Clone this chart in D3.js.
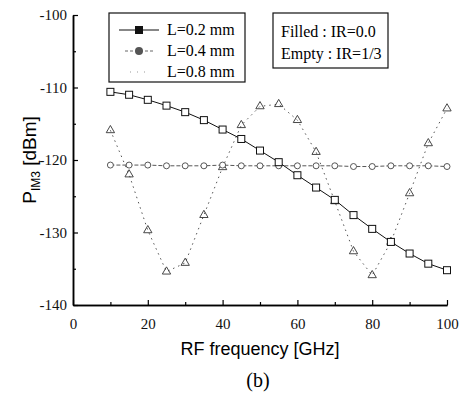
<!DOCTYPE html>
<html>
<head>
<meta charset="utf-8">
<script src="https://cdn.jsdelivr.net/npm/d3@7"></script>
<style>
  body { margin: 0; background: #fff; }
  .tick text { font-family: "Liberation Serif", "Times New Roman", serif; font-size: 15px; }
  .leg { font-family: "Liberation Serif", "Times New Roman", serif; font-size: 16px; }
  .lab { font-family: "Liberation Sans", Arial, sans-serif; font-size: 17px; }
</style>
</head>
<body>
<div id="graf"></div>
<script>
const freqs = [10, 15, 20, 25, 30, 35, 40, 45, 50, 55, 60, 65, 70, 75, 80, 85, 90, 95, 100]
const l02 = [-110.6, -111.0, -111.7, -112.5, -113.4, -114.5, -115.8, -117.1, -118.7, -120.3,
  -122.1, -123.8, -125.5, -127.6, -129.5, -131.3, -132.9, -134.3, -135.2]
const l04 = [-120.7, -120.7, -120.7, -120.8, -120.8, -120.8, -120.7, -120.8, -120.8, -120.8,
  -120.8, -120.8, -120.8, -120.9, -120.9, -120.8, -120.8, -120.8, -120.9]
const l08 = [-115.9, -122.0, -129.7, -135.4, -134.2, -127.6, -121.0, -115.2, -112.6, -112.3,
  -114.5, -118.9, -125.7, -132.6, -135.9, -131.3, -124.6, -117.7, -112.9]
const xTicks = [0, 20, 40, 60, 80, 100]
const yTicks = [-140, -130, -120, -110, -100]
const legendLabels = ["L=0.2 mm", "L=0.4 mm", "L=0.8 mm"]
const noteLabels = ["Filled : IR=0.0", "Empty : IR=1/3"]

const W = 475, H = 394
const margins = { left: 73, top: 15, right: 28, bottom: 89 }
const ancho = W - margins.left - margins.right
const alto = H - margins.top - margins.bottom

const svg = d3.select("#graf").append("svg").attr("width", W).attr("height", H)
const g = svg.append("g").attr("transform", `translate(${margins.left}, ${margins.top})`)

const x = d3.scaleLinear().domain([0, 100]).range([0, ancho])
const y = d3.scaleLinear().domain([-140, -100]).range([alto, 0])

// ejes, ticks hacia adentro, guion simple en vez del signo menos
const fmt = (d) => String(d)
const xAxis = g.append("g").attr("transform", `translate(0, ${alto})`)
  .call(d3.axisBottom(x).tickValues(xTicks).tickFormat(fmt).tickSize(-5).tickPadding(13).tickSizeOuter(0))
xAxis.append("g").call(d3.axisBottom(x).tickValues([10, 30, 50, 70, 90]).tickSize(-3).tickFormat("").tickSizeOuter(0))
const yAxis = g.append("g")
  .call(d3.axisLeft(y).tickValues(yTicks).tickFormat(fmt).tickSize(-5).tickPadding(6).tickSizeOuter(0))
yAxis.append("g").call(d3.axisLeft(y).tickValues([-135, -125, -115, -105]).tickSize(-3).tickFormat("").tickSizeOuter(0))
g.selectAll(".domain").attr("stroke-width", 1.5)
g.selectAll(".tick line").attr("stroke-width", 1.2)
g.selectAll(".tick text").attr("fill", "#111")

const line = d3.line().x((d, i) => x(freqs[i])).y((d) => y(d))

// L=0.8 mm, punteado
g.append("path").attr("d", line(l08))
  .attr("fill", "none").attr("stroke", "#555").attr("stroke-width", 1).attr("stroke-dasharray", "1.5,4")
g.selectAll(".tri").data(l08).enter().append("path")
  .attr("d", d3.symbol().type(d3.symbolTriangle).size(30))
  .attr("transform", (d, i) => `translate(${x(freqs[i])}, ${y(d)})`)
  .attr("fill", "none").attr("stroke", "#333").attr("stroke-width", 0.9)

// L=0.4 mm, plano con guiones
g.append("path").attr("d", line(l04))
  .attr("fill", "none").attr("stroke", "#444").attr("stroke-width", 0.9).attr("stroke-dasharray", "4,2")
g.selectAll(".cir").data(l04).enter().append("circle")
  .attr("cx", (d, i) => x(freqs[i])).attr("cy", (d) => y(d)).attr("r", 3)
  .attr("fill", "#fff").attr("stroke", "#444").attr("stroke-width", 0.9)

// L=0.2 mm, continuo
g.append("path").attr("d", line(l02))
  .attr("fill", "none").attr("stroke", "#111").attr("stroke-width", 1)
g.selectAll(".sq").data(l02).enter().append("rect")
  .attr("x", (d, i) => x(freqs[i]) - 3.5).attr("y", (d) => y(d) - 3.5)
  .attr("width", 7).attr("height", 7)
  .attr("fill", "#fff").attr("stroke", "#111").attr("stroke-width", 1)

// leyenda
const leg = svg.append("g")
leg.append("rect").attr("x", 109).attr("y", 13).attr("width", 136).attr("height", 69)
  .attr("fill", "#fff").attr("stroke", "#111").attr("stroke-width", 1.2)
const rows = [30, 51, 72]
leg.append("line").attr("x1", 119).attr("x2", 159).attr("y1", rows[0]).attr("y2", rows[0])
  .attr("stroke", "#111").attr("stroke-width", 1.2)
leg.append("rect").attr("x", 135).attr("y", rows[0] - 4).attr("width", 8).attr("height", 8).attr("fill", "#111")
leg.append("line").attr("x1", 125).attr("x2", 155).attr("y1", rows[1]).attr("y2", rows[1])
  .attr("stroke", "#666").attr("stroke-width", 1).attr("stroke-dasharray", "3,2")
leg.append("circle").attr("cx", 139).attr("cy", rows[1]).attr("r", 4).attr("fill", "#555")
leg.append("line").attr("x1", 130).attr("x2", 148).attr("y1", rows[2]).attr("y2", rows[2])
  .attr("stroke", "#999").attr("stroke-width", 1).attr("stroke-dasharray", "1,6")
leg.selectAll(".lt").data(legendLabels).enter().append("text")
  .attr("class", "leg").attr("x", 167).attr("y", (d, i) => rows[i] + 5).text((d) => d)

// nota
svg.append("rect").attr("x", 273).attr("y", 13).attr("width", 115).attr("height", 55)
  .attr("fill", "#fff").attr("stroke", "#111").attr("stroke-width", 1.2)
svg.selectAll(".nt").data(noteLabels).enter().append("text")
  .attr("class", "leg").attr("x", 281).attr("y", (d, i) => 37 + i * 22).text((d) => d)

// etiquetas
const yl = svg.append("text").attr("class", "lab").attr("text-anchor", "middle")
  .style("font-size", "19px")
  .attr("transform", `translate(36, ${margins.top + alto / 2}) rotate(-90)`)
yl.append("tspan").text("P")
yl.append("tspan").attr("font-size", 12).attr("dy", 4).text("IM3")
yl.append("tspan").attr("dy", -4).text(" [dBm]")

svg.append("text").attr("class", "lab").attr("x", margins.left + ancho / 2).attr("y", 355)
  .attr("text-anchor", "middle").style("font-size", "18px").text("RF frequency [GHz]")
svg.append("text").attr("class", "lab").attr("x", 258).attr("y", 387)
  .attr("text-anchor", "middle").style("font-family", "Liberation Serif, serif").style("font-size", "20px").text("(b)")
</script>
</body>
</html>
